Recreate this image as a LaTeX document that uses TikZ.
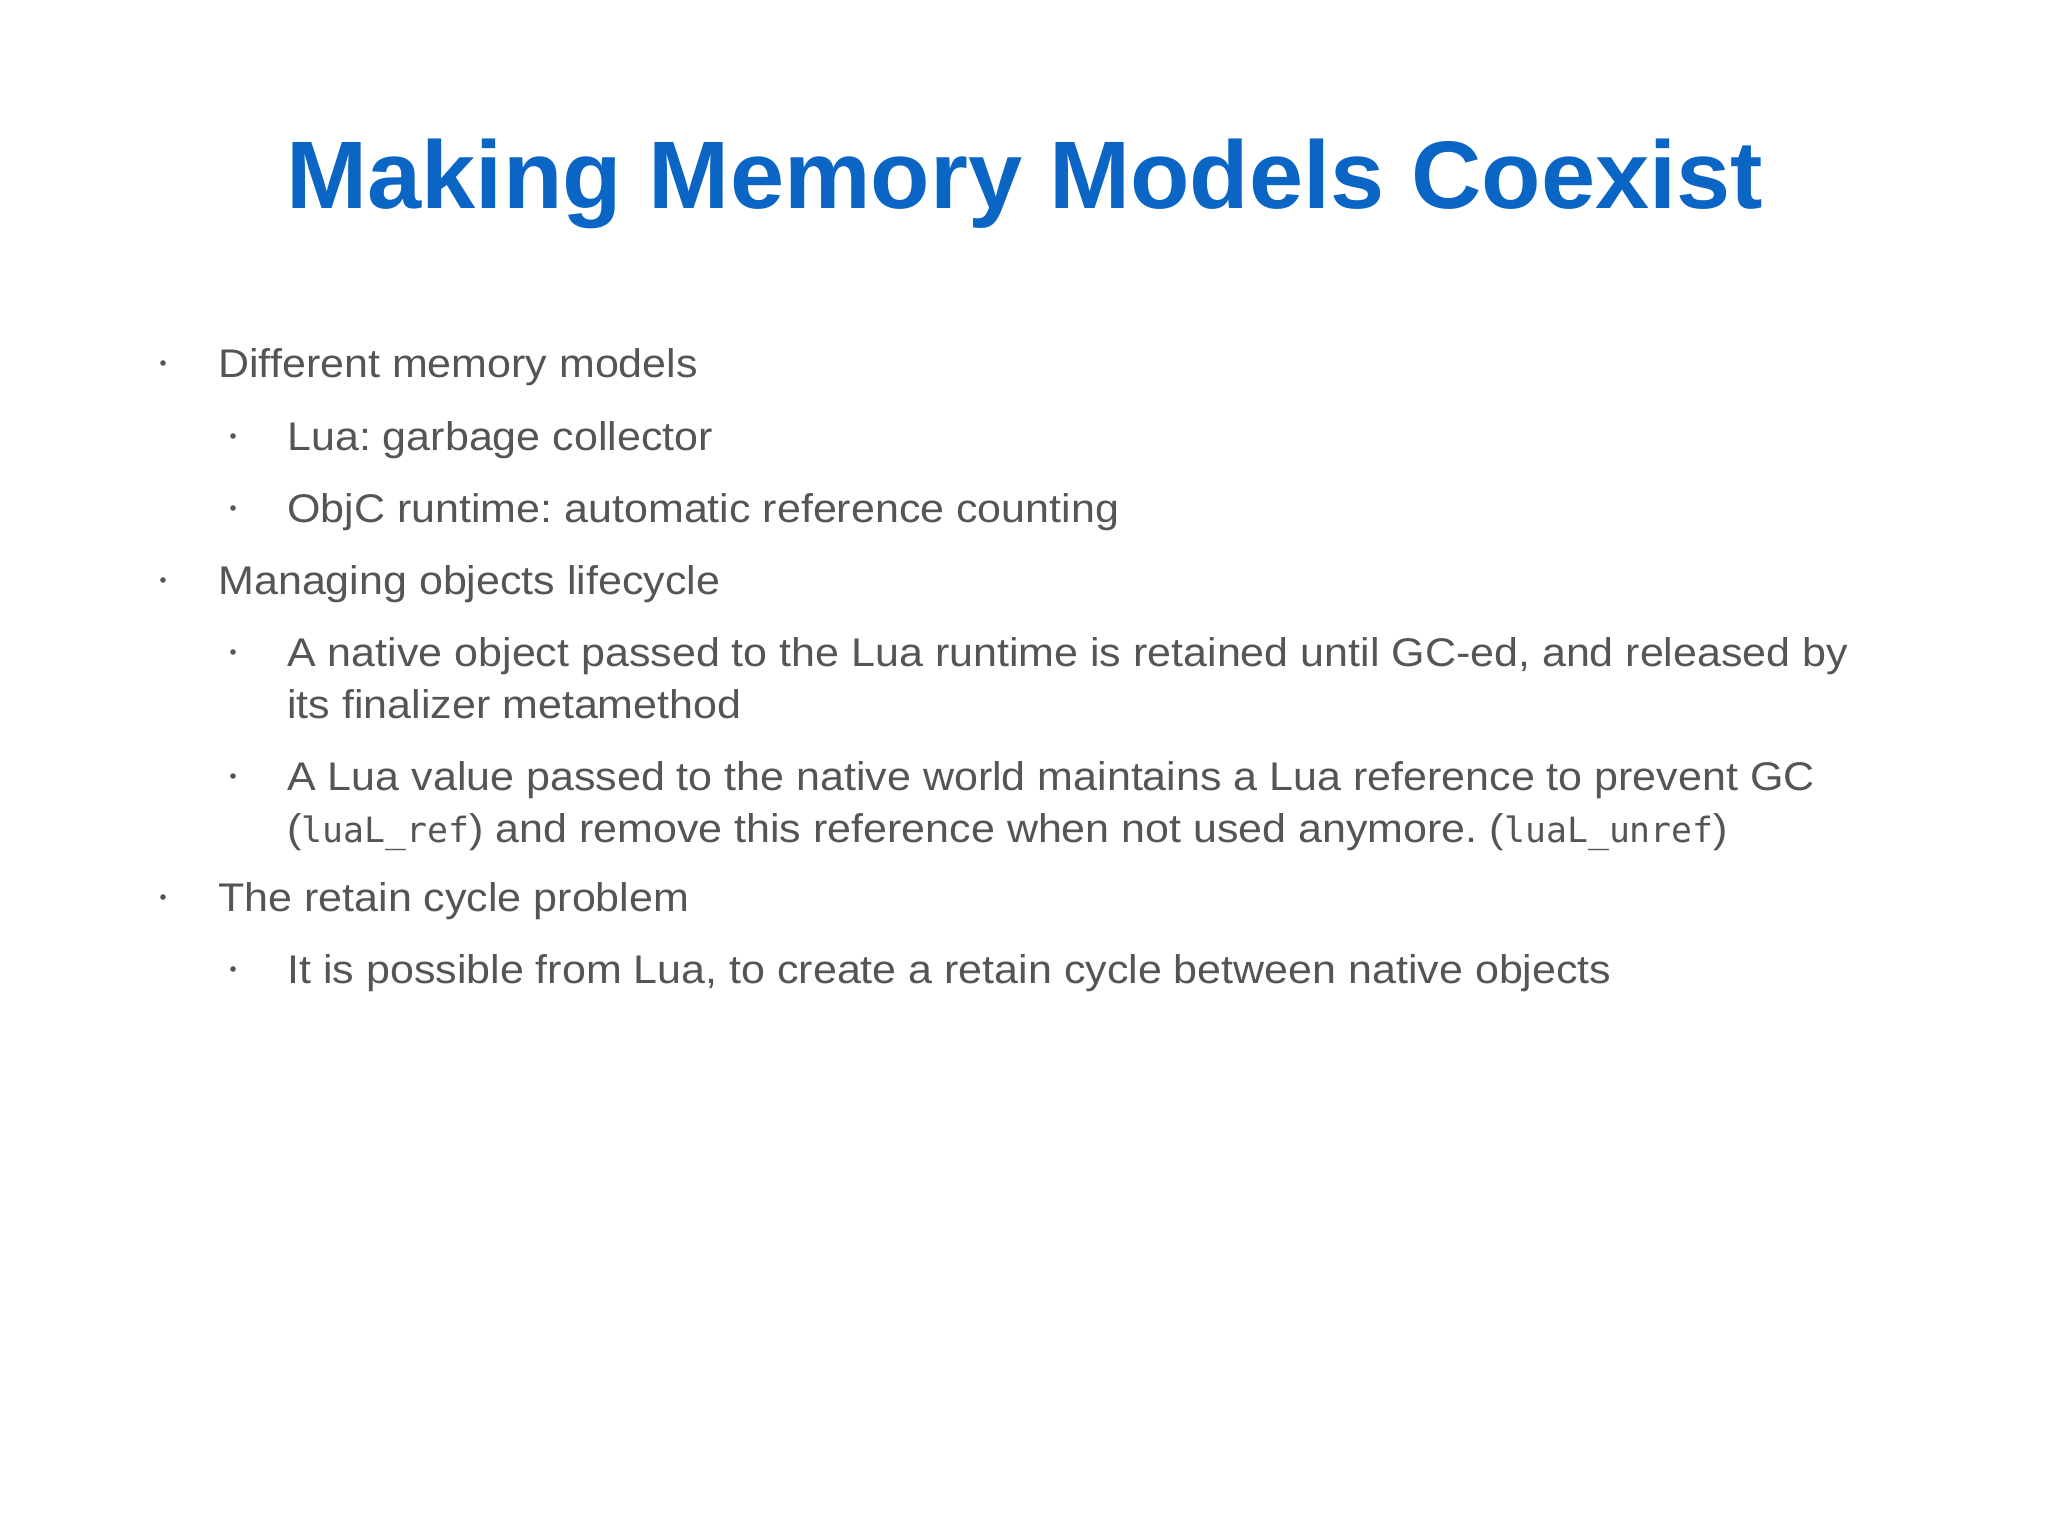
\documentclass[tikz,border=0pt]{standalone}
\usepackage{fontspec}
\setmainfont[FakeStretch=1.075]{Liberation Sans}
\newfontfamily\titlef[FakeStretch=1.014]{Liberation Sans}
\newfontfamily\monof{DejaVu Sans Mono}
\definecolor{titleblue}{RGB}{10,101,196}
\definecolor{bodygray}{RGB}{85,85,88}
\begin{document}
\frenchspacing
\begin{tikzpicture}[x=0.5pt,y=-0.5pt,
  ttl/.style={anchor=base,inner sep=0,text=titleblue,font=\titlef\fontsize{48}{56}\selectfont\bfseries},
  lvlone/.style={anchor=base west,inner sep=0,text=bodygray,font=\fontsize{20}{26}\selectfont},
  lvltwo/.style={anchor=base west,inner sep=0,text=bodygray,font=\fontsize{20}{26}\selectfont,align=left},
  dot/.style={circle,fill=bodygray,inner sep=0,minimum size=2.8pt}]
\useasboundingbox (0,0) rectangle (2048,1536);
\fill[white] (0,0) rectangle (2048,1536);
\node[ttl] (title) at (1025,208) {Making Memory Models Coexist};
% level one
\node[dot] (b1) at (163,363) {};
\node[lvlone] (t1) at (218,377) {Different memory models};
\node[dot] (b2) at (233,436) {};
\node[lvltwo] (t2) at (287,450) {Lua: garbage collector};
\node[dot] (b3) at (233,508) {};
\node[lvltwo] (t3) at (287,522) {ObjC runtime: automatic reference counting};
\node[dot] (b4) at (163,580) {};
\node[lvlone] (t4) at (218,594) {Managing objects lifecycle};
\node[dot] (b5) at (233,652) {};
\node[lvltwo] (t5) at (287,666) {A native object passed to the Lua runtime is retained until GC-ed, and released by};
\node[lvltwo] (t5b) at (287,718) {its finalizer metamethod};
\node[dot] (b6) at (233,776) {};
\node[lvltwo] (t6) at (287,790) {A Lua value passed to the native world maintains a Lua reference to prevent GC};
\node[lvltwo] (t6b) at (287,842) {({\monof\fontsize{17.4}{20}\selectfont luaL\_ref}) and remove this reference when not used anymore. ({\monof\fontsize{17.4}{20}\selectfont luaL\_unref})};
\node[dot] (b7) at (163,897) {};
\node[lvlone] (t7) at (218,911) {The retain cycle problem};
\node[dot] (b8) at (233,969) {};
\node[lvltwo] (t8) at (287,983) {It is possible from Lua, to create a retain cycle between native objects};
\end{tikzpicture}
\end{document}
